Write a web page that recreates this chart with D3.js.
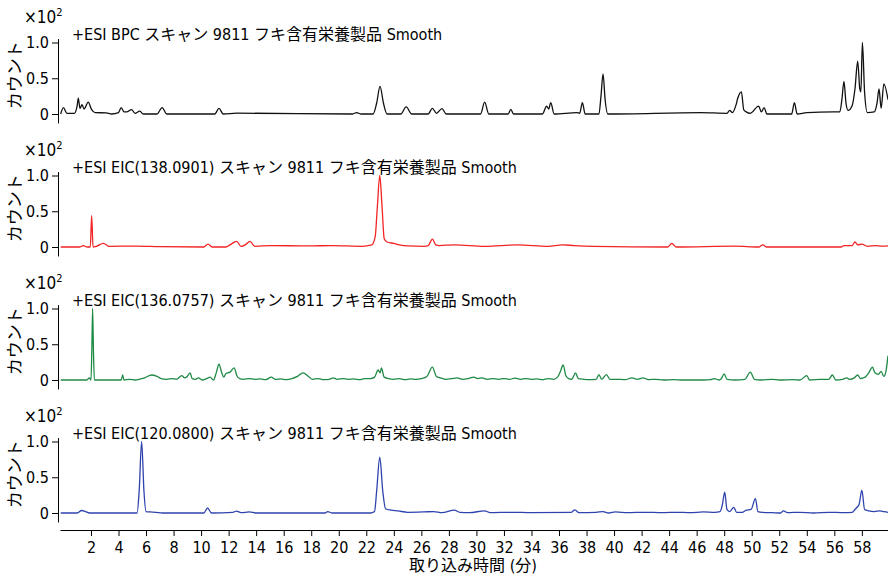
<!DOCTYPE html>
<html lang="ja">

<head>
    <meta charset="UTF-8">
    <title>Chromatograms</title>
    <script src="https://d3js.org/d3.v7.min.js"></script>
    <style>
        body { margin: 0; background: #fff; }
        text { font-family: "Liberation Sans Narrow", "DejaVu Sans Condensed", "Noto Sans CJK JP", sans-serif; fill: #000; }
    </style>
</head>

<body>
    <div id="chart"></div>

    <script>
        // Panel titles, top to bottom
        const titles = [
            "+ESI BPC スキャン 9811 フキ含有栄養製品 Smooth",
            "+ESI EIC(138.0901) スキャン 9811 フキ含有栄養製品 Smooth",
            "+ESI EIC(136.0757) スキャン 9811 フキ含有栄養製品 Smooth",
            "+ESI EIC(120.0800) スキャン 9811 フキ含有栄養製品 Smooth"
        ];
        const colors = ["#111111", "#f22424", "#1f8a45", "#2f43ad"];

        const xTicks = [2, 4, 6, 8, 10, 12, 14, 16, 18, 20, 22, 24, 26, 28, 30, 32, 34, 36, 38, 40, 42, 44, 46, 48, 50, 52, 54, 56, 58];
        const yTicks = [0, 0.5, 1.0];
        const yLabels = ["0", "0.5", "1.0"];

        // [time (min), counts x10^2]
        const bpc = [[-0.2,0],[0,0.09],[0.25,0.01],[0.8,0.01],[1.0,0.12],[1.08,0.22],[1.2,0.08],[1.35,0.13],[1.5,0.07],[1.8,0.165],[2.05,0.06],[2.3,0.02],[3.1,0.015],[3.5,0.0],[4.0,0.02],[4.2,0.09],[4.4,0.03],[4.6,0.03],[4.95,0.06],[5.2,0.01],[5.55,0.04],[5.8,0.0],[6.8,0.0],[7.17,0.09],[7.5,0.0],[11.0,0.0],[11.3,0.08],[11.6,0.0],[12.6,0.012],[21.0,0.0],[21.3,0.02],[21.6,0.0],[22.5,0.0],[22.75,0.15],[23.0,0.385],[23.25,0.15],[23.5,0.0],[24.5,0.0],[24.9,0.10],[25.3,0.0],[26.5,0.0],[26.8,0.08],[27.1,0.01],[27.5,0.075],[27.8,0.0],[30.3,0.0],[30.6,0.165],[30.9,0.0],[32.3,0.0],[32.5,0.066],[32.7,0.0],[34.8,0.0],[35.1,0.11],[35.25,0.07],[35.4,0.16],[35.65,0.0],[37.3,0.02],[37.5,0.01],[37.7,0.16],[37.9,0.0],[38.9,0.0],[39.05,0.25],[39.2,0.56],[39.35,0.2],[39.55,0.0],[46.3,0.02],[48.2,0.01],[48.4,0.05],[48.6,0.02],[48.85,0.12],[49.0,0.23],[49.25,0.31],[49.42,0.06],[49.6,0.03],[49.9,0.01],[50.5,0.11],[50.7,0.03],[50.9,0.09],[51.1,0.0],[52.9,0.0],[53.1,0.16],[53.3,0.0],[54.0,0.02],[55.9,0.03],[56.4,0.03],[56.55,0.2],[56.7,0.455],[56.85,0.15],[57.0,0.05],[57.3,0.12],[57.5,0.35],[57.7,0.74],[57.85,0.35],[57.93,0.31],[58.04,1.0],[58.2,0.3],[58.4,0.02],[58.9,0.03],[59.1,0.15],[59.25,0.35],[59.4,0.08],[59.6,0.42],[59.9,0.2]];

        const eic138 = [[-0.2,0.0],[1.2,0.0],[1.44,0.02],[1.7,0.0],[1.95,0.0],[2.05,0.44],[2.15,0.0],[2.4,0.01],[2.9,0.05],[3.3,0.01],[5.3,0.012],[7,0.005],[10.2,0.0],[10.5,0.04],[10.8,0.0],[11.8,0.0],[12.1,0.03],[12.58,0.08],[12.9,0.01],[13.2,0.03],[13.55,0.08],[13.9,0.01],[15.1,0.02],[17.75,0.015],[19.5,0.02],[21.7,0.01],[22.4,0.03],[22.65,0.15],[22.8,0.55],[22.98,1.0],[23.15,0.55],[23.3,0.12],[23.5,0.07],[24.0,0.05],[24.4,0.03],[25,0.015],[26.2,0.01],[26.5,0.02],[26.8,0.11],[27.05,0.03],[27.3,0.02],[28.4,0.03],[30.6,0.01],[33.0,0.03],[35.2,0.01],[36.25,0.03],[37.1,0.02],[38.5,0.01],[43.9,0.0],[44.2,0.05],[44.5,0.0],[48.8,0.012],[50.5,0.0],[50.8,0.03],[51.1,0.0],[56.5,0.0],[56.7,0.02],[57.3,0.02],[57.5,0.07],[57.7,0.03],[58.0,0.04],[58.4,0.01],[59,0.02],[59.5,0.012],[59.9,0.015]];

        const eic136 = [[-0.2,0],[1.7,0],[1.88,0.03],[2.0,0.0],[2.07,0.5],[2.12,1.0],[2.18,0.4],[2.25,0.0],[4.2,0.0],[4.3,0.07],[4.4,0.0],[4.8,0.01],[5.2,0.0],[5.6,0.015],[5.9,0.03],[6.4,0.07],[6.8,0.05],[7.1,0.02],[7.5,0.01],[7.9,0.02],[8.2,0.01],[8.6,0.06],[8.8,0.03],[8.95,0.04],[9.2,0.1],[9.35,0.02],[9.6,0.01],[9.8,0.03],[10.1,0.0],[10.4,0.02],[10.65,0.04],[10.9,0.0],[11.1,0.1],[11.3,0.22],[11.5,0.1],[11.65,0.04],[11.8,0.09],[12.1,0.11],[12.4,0.17],[12.6,0.06],[12.8,0.02],[13.1,0.01],[13.5,0.02],[13.9,0.01],[14.3,0.015],[14.7,0.005],[15.1,0.04],[15.4,0.01],[15.8,0.015],[16.2,0.005],[16.6,0.02],[17.0,0.05],[17.4,0.1],[17.8,0.05],[18.1,0.01],[18.5,0.02],[18.9,0.005],[19.3,0.01],[19.6,0.03],[19.9,0.01],[20.3,0.02],[20.7,0.01],[21.1,0.015],[21.5,0.005],[21.9,0.02],[22.3,0.02],[22.6,0.04],[22.86,0.14],[23.0,0.1],[23.1,0.17],[23.3,0.04],[23.6,0.02],[24.0,0.01],[24.4,0.02],[24.8,0.005],[25.2,0.015],[25.6,0.01],[26.0,0.02],[26.4,0.05],[26.8,0.18],[27.1,0.05],[27.4,0.03],[27.8,0.01],[28.2,0.02],[28.6,0.03],[29.0,0.01],[29.4,0.02],[29.8,0.04],[30.1,0.02],[30.4,0.03],[30.8,0.01],[31.2,0.02],[31.6,0.01],[32.0,0.02],[32.4,0.01],[32.8,0.025],[33.2,0.01],[33.6,0.02],[34.0,0.01],[34.4,0.015],[34.8,0.005],[35.2,0.02],[35.6,0.01],[35.9,0.04],[36.1,0.12],[36.3,0.21],[36.5,0.06],[36.7,0.02],[36.9,0.01],[37.0,0.03],[37.2,0.1],[37.4,0.02],[37.8,0.01],[38.2,0.005],[38.7,0.01],[38.9,0.075],[39.1,0.01],[39.45,0.075],[39.7,0.01],[40.2,0.01],[40.8,0.005],[41.3,0.03],[41.7,0.01],[42.1,0.03],[42.5,0.005],[43,0.01],[43.6,0.0],[44.3,0.005],[45,0.0],[46.5,0.0],[47.0,0.005],[47.3,0.02],[47.6,0.0],[47.8,0.02],[48.0,0.085],[48.2,0.01],[48.8,0.0],[49.5,0.01],[49.9,0.11],[50.2,0.01],[50.6,0.0],[51.5,0.01],[52.0,0.0],[53.0,0.005],[53.5,0.0],[54.0,0.06],[54.2,0.0],[55.0,0.01],[55.6,0.01],[55.86,0.07],[56.1,0.0],[56.6,0.01],[56.9,0.03],[57.1,0.01],[57.45,0.03],[57.7,0.07],[57.9,0.02],[58.1,0.03],[58.25,0.04],[58.5,0.1],[58.77,0.18],[58.95,0.1],[59.2,0.08],[59.4,0.12],[59.6,0.05],[59.75,0.12],[59.9,0.34]];

        const eic120 = [[-0.2,0],[1.0,0.0],[1.32,0.035],[1.6,0.02],[1.9,0.0],[5.35,0.0],[5.5,0.3],[5.68,1.0],[5.85,0.3],[6.0,0.02],[6.3,0.015],[6.7,0.01],[7.2,0.0],[10.2,0.0],[10.47,0.07],[10.75,0.0],[12.3,0.01],[12.58,0.025],[12.9,0.005],[13.5,0.015],[14,0.0],[19.0,0.0],[19.2,0.02],[19.5,0.0],[22.3,0.0],[22.6,0.02],[22.75,0.3],[22.98,0.78],[23.2,0.3],[23.4,0.06],[23.8,0.04],[24.3,0.03],[25.0,0.01],[26.2,0.015],[26.9,0.02],[27.5,0.005],[28.4,0.04],[28.8,0.01],[29.5,0.005],[30.6,0.03],[31,0.005],[32.5,0.01],[34,0.005],[36.9,0.01],[37.15,0.045],[37.45,0.005],[38.7,0.01],[39.2,0.02],[39.6,0.0],[40.1,0.015],[41,0.005],[42.2,0.01],[43.5,0.005],[44.6,0.01],[45.5,0.005],[46.5,0.015],[47.3,0.01],[47.7,0.02],[47.85,0.1],[48.04,0.29],[48.2,0.05],[48.4,0.02],[48.7,0.08],[48.9,0.01],[49.3,0.01],[49.6,0.04],[49.95,0.05],[50.27,0.2],[50.45,0.02],[50.8,0.01],[51.5,0.005],[52.1,0.0],[52.3,0.03],[52.6,0.005],[53.5,0.01],[54.5,0.0],[55.6,0.01],[56.7,0.005],[57.3,0.01],[57.5,0.05],[57.65,0.08],[57.8,0.12],[58.0,0.32],[58.2,0.05],[58.5,0.03],[58.9,0.02],[59.3,0.03],[59.6,0.02],[59.9,0.01]];

        const series = [bpc, eic138, eic136, eic120];

        // Layout
        const W = 888, H = 576;
        const panelZero = [114, 247, 380, 513]; // pixel row of value 0
        const unitH = 71.5;                    // pixels for 1.0 (x10^2)
        const axisX = 58;
        const xAxisY = 530;

        const svg = d3.select("#chart")
            .append("svg")
            .attr("width", W)
            .attr("height", H);

        const xScale = d3.scaleLinear().domain([-0.25, 59.9]).range([60, 888]);

        series.forEach((data, i) => {
            const y0 = panelZero[i];
            // y axis runs a bit below 0 and a bit above 1.0
            const yScale = d3.scaleLinear()
                .domain([-0.125, 1.055])
                .range([y0 + 0.125 * unitH, y0 - 1.055 * unitH]);

            const g = svg.append("g");

            g.append("g")
                .attr("transform", "translate(" + axisX + ",0)")
                .call(d3.axisLeft(yScale)
                    .tickValues(yTicks)
                    .tickFormat((d, k) => yLabels[k])
                    .tickSize(6)
                    .tickSizeOuter(0))
                .call(a => a.select(".domain").attr("stroke", "#000"))
                .call(a => a.selectAll("text")
                    .attr("font-size", 16)
                    .attr("font-family", null)
                    .attr("fill", "#000"));

            // x10^2 multiplier
            const mult = g.append("text")
                .attr("x", 24)
                .attr("y", yScale(1) - 20)
                .attr("font-size", 17);
            mult.append("tspan").text("×10");
            mult.append("tspan").attr("font-size", 11).attr("dy", -7).text("2");

            // Y label
            g.append("text")
                .attr("transform", "translate(21," + (yScale(0.5) - 3) + ") rotate(-90)")
                .attr("text-anchor", "middle")
                .attr("font-size", 17)
                .text("カウント");

            g.append("text")
                .attr("x", 72)
                .attr("y", yScale(1) - 3)
                .attr("font-size", 16)
                .text(titles[i]);

            const line = d3.line()
                .x(d => xScale(d[0]))
                .y(d => yScale(d[1]))
                .curve(d3.curveMonotoneX);

            g.append("path")
                .datum(data)
                .attr("fill", "none")
                .attr("stroke", colors[i])
                .attr("stroke-width", 1.3)
                .attr("stroke-linejoin", "round")
                .attr("d", line);
        });

        // Shared time axis
        svg.append("g")
            .attr("transform", "translate(0," + xAxisY + ")")
            .call(d3.axisBottom(xScale)
                .tickValues(xTicks)
                .tickSize(6)
                .tickSizeOuter(0))
            .call(a => a.selectAll("text")
                .attr("font-size", 16)
                .attr("font-family", null)
                .attr("fill", "#000")
                .attr("dy", "0.85em"));

        svg.append("text")
            .attr("x", 473)
            .attr("y", 571)
            .attr("text-anchor", "middle")
            .attr("font-size", 16)
            .text("取り込み時間 (分)");
    </script>
</body>

</html>
